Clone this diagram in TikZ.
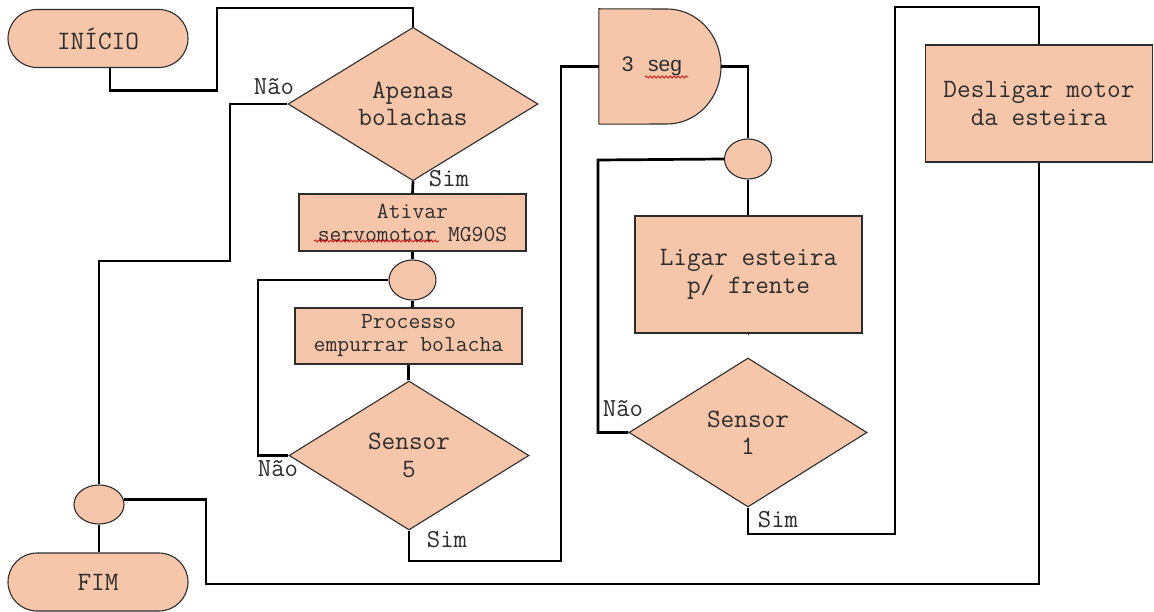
\documentclass[tikz,border=0pt]{standalone}
\usepackage{fontspec}
\newfontfamily\sansf{Liberation Sans}
\usetikzlibrary{shapes.geometric,decorations.pathmorphing,calc}

\definecolor{peach}{RGB}{245,198,170}
\definecolor{ink}{RGB}{45,45,45}

\begin{document}
\begin{tikzpicture}[x=1pt,y=-1pt,
  shapebase/.style={draw=ink, line width=1.1pt, fill=peach, text=ink, inner sep=0pt,
    align=center, font=\ttfamily\fontsize{26.5}{27.5}\selectfont},
  term/.style={shapebase, rectangle, rounded corners=29pt, minimum width=180pt, minimum height=58pt},
  procbox/.style={shapebase, rectangle, minimum width=227pt},
  smalltext/.style={font=\ttfamily\fontsize{23}{23}\selectfont},
  decision/.style={shapebase, diamond},
  joint/.style={shapebase, ellipse, minimum width=47pt, minimum height=40pt},
  conn/.style={draw=black, line width=2.7pt},
  lbl/.style={text=ink, inner sep=0pt, font=\ttfamily\fontsize{26}{27}\selectfont},
  squiggle/.style={draw=red!85!black, line width=0.7pt, decorate,
    decoration={snake, segment length=4pt, amplitude=1.1pt}}
]
\fill[white] (0,0) rectangle (1154,612);
\useasboundingbox (0,0) rectangle (1154,612);

% ---- shapes ----
\node[term] (inicio) at (98,38.5) {INÍCIO};
\node[decision, minimum width=250pt, minimum height=148pt] (d1) at (413,104) {Apenas\\bolachas};
\node[procbox, smalltext, minimum height=57pt] (a1) at (412.5,222.5) {Ativar\\servomotor MG90S};
\node[joint] (c1) at (412.5,280) {};
\node[procbox, smalltext, minimum height=56pt] (p1) at (408.5,336) {Processo\\empurrar bolacha};
\node[decision, minimum width=240pt, minimum height=149pt] (s5) at (409,455.5) {Sensor\\5};

% delay block
\node[minimum width=122pt, minimum height=115pt, inner sep=0pt] (delay) at (660,66.5) {};
\draw[shapebase] (delay.north west) -- (667,9)
  arc[start angle=90, end angle=-90, x radius=54pt, y radius=57.5pt]
  -- (delay.south west) -- cycle;
\node[lbl, font=\sansf\fontsize{21}{25}\selectfont] (delaytxt) at (652,66) {3\hspace{0.7em}seg};

\node[joint] (c2) at (748,159) {};
\node[procbox, minimum height=117pt] (l1) at (748.5,274.5) {Ligar esteira\\p/ frente};
\node[decision, minimum width=238pt, minimum height=149pt] (s1) at (748,432.5) {Sensor\\1};
\node[procbox, minimum height=117pt] (de) at (1039,103.5) {Desligar motor\\da esteira};
\node[joint, minimum width=50pt, minimum height=39pt] (c3) at (99,504.5) {};
\node[term] (fim) at (98,582) {FIM};

% spell-check marks
\draw[squiggle] (314,241) -- (439,241);
\draw[squiggle] (645,77) -- (688,77);

% ---- connectors ----
\draw[conn] ($(inicio.south)+(12,0)$) -- (110,90.5) -- (217,90.5) -- (217,8) -- (413,8) -- (d1.north);
\draw[conn] (d1.west) -- (230,104) -- (230,261) -- (99,261) -- (c3.north);
\draw[conn] (d1.south) -- (a1.north);
\draw[conn] (a1.south) -- (c1.north);
\draw[conn] (c1.south) -- (c1.south |- p1.north);
\draw[conn] (p1.south) -- (p1.south |- s5.north);
\draw[conn] (s5.west) -- (258,455.5) -- (258,280) -- (c1.west);
\draw[conn] (s5.south) -- (409,561) -- (561,561) -- (561,66.5) -- (delay.west);
\draw[conn] (delay.east) -- (748,66.5) -- (c2.north);
\draw[conn] (c2.south) -- (c2.south |- l1.north);
\draw[conn] (l1.south) -- (l1.south -| s1.north);
\draw[conn] (s1.west) -- (598,432.5) -- (598,160) -- (c2.west);
\draw[conn] (s1.south) -- (748,534) -- (895,534) -- (895,7) -- (1039,7) -- (de.north);
\draw[conn] (de.south) |- (206,584) |- (c3.12);
\draw[conn] (c3.south) -- (c3.south |- fim.north);

% ---- branch labels ----
\node[lbl] (n1) at (274,87) {Não};
\node[lbl] (y1) at (449,179) {Sim};
\node[lbl] (n5) at (278,469) {Não};
\node[lbl] (y5) at (447,540) {Sim};
\node[lbl] (n2) at (623,409) {Não};
\node[lbl] (y2) at (778,520) {Sim};
\end{tikzpicture}
\end{document}
